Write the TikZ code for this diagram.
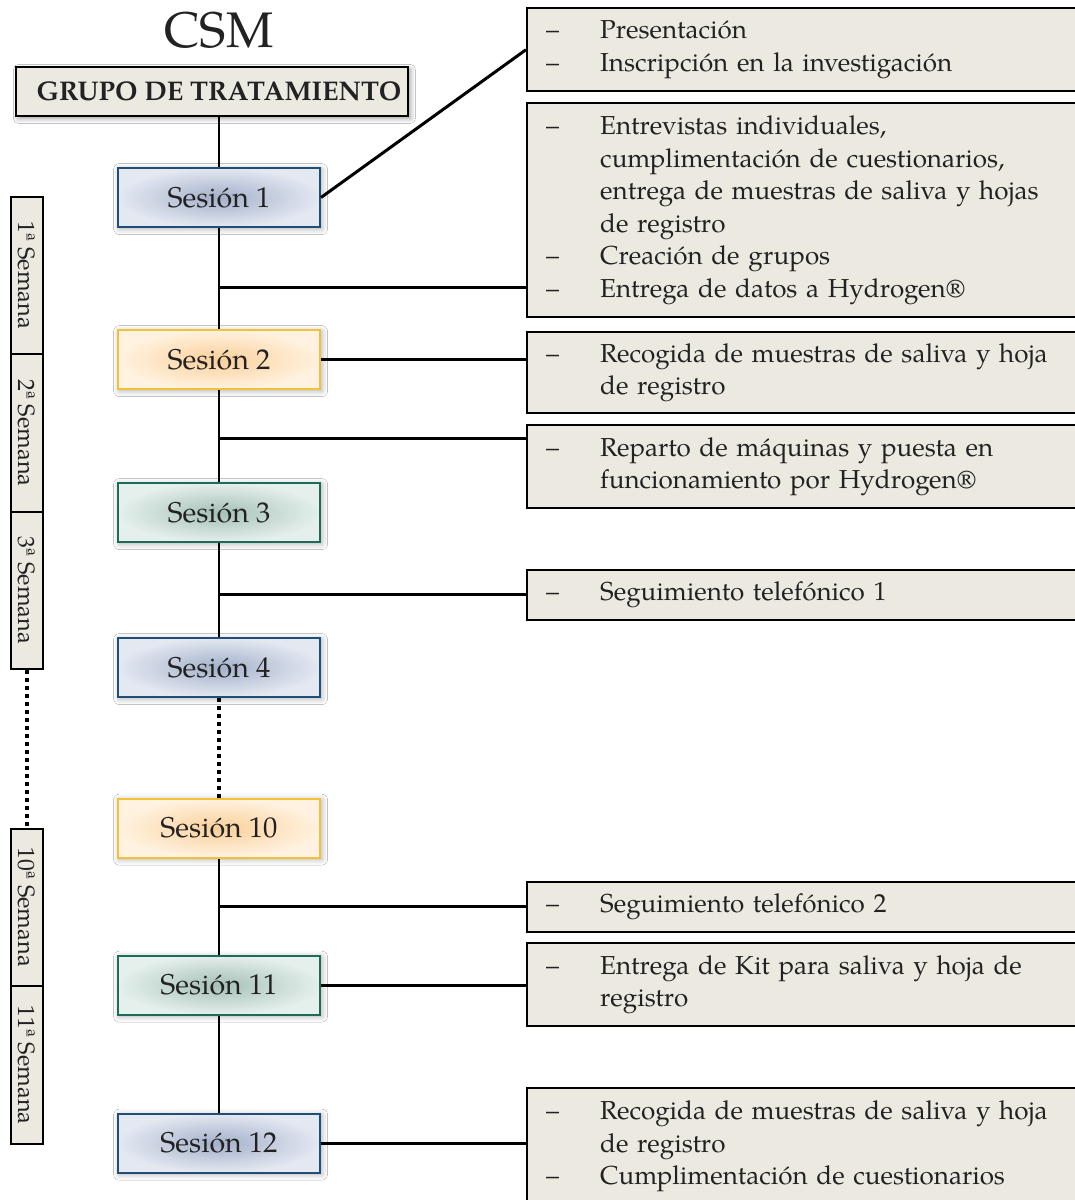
\documentclass[tikz,border=0pt]{standalone}
\usepackage{fontspec}
\setmainfont{texgyrepagella}[Extension=.otf, UprightFont=*-regular, BoldFont=*-bold, ItalicFont=*-italic, BoldItalicFont=*-bolditalic]
\usetikzlibrary{shadows.blur}

\definecolor{paper}{HTML}{ECE9E0}
\definecolor{ink}{HTML}{222222}
\definecolor{bluedge}{HTML}{1F4E79}
\definecolor{bluein}{HTML}{A4B0CA}
\definecolor{blueout}{HTML}{E3E8F1}
\definecolor{goldedge}{HTML}{F0C23A}
\definecolor{goldin}{HTML}{FAD09A}
\definecolor{goldout}{HTML}{FFF2E0}
\definecolor{tealedge}{HTML}{1D6B5B}
\definecolor{tealin}{HTML}{A5C0B8}
\definecolor{tealout}{HTML}{E5EFEC}

% first line of an item, and continuation lines
\newcommand\itm{\makebox[36.5pt][l]{\hspace*{9.5pt}–}}
\newcommand\cnt{\hspace*{36.5pt}}

\tikzset{
  session/.style={draw, line width=1pt, minimum width=101pt, minimum height=29.5pt,
    inner sep=0pt, font=\fontsize{14.3}{14}\selectfont, text=ink,
    blur shadow={shadow xshift=0.8pt, shadow yshift=-0.8pt, shadow blur radius=3pt, shadow opacity=35}},
  blueses/.style={session, draw=bluedge, inner color=bluein, outer color=blueout},
  goldses/.style={session, draw=goldedge, inner color=goldin, outer color=goldout},
  tealses/.style={session, draw=tealedge, inner color=tealin, outer color=tealout},
  note/.style={draw=black, line width=1.2pt, fill=paper, anchor=north west,
    minimum width=290pt, text width=290pt, inner xsep=0pt, inner ysep=0pt,
    minimum height=#1, align=left, font=\fontsize{13}{16.3}\selectfont, text=ink},
  week/.style={draw=black, line width=1pt, fill=paper, rotate=-90,
    minimum width=#1, minimum height=16pt, inner sep=0pt,
    font=\fontsize{11.8}{11.8}\selectfont, text=ink},
  trunk/.style={line width=1.4pt},
  link/.style={line width=1.5pt},
  gap/.style={line width=2.2pt, dash pattern=on 2.2pt off 1.8pt},
}

\begin{document}
\begin{tikzpicture}[x=0.5pt, y=-0.5pt]
\useasboundingbox (0,0) rectangle (1075,1200);
\fill[white] (0,0) rectangle (1075,1200);

% title and group header
\node[anchor=base, font=\fontsize{25}{25}\selectfont, text=ink] (csm) at (219,47) {CSM};
\node[draw=black, line width=1.2pt, fill=paper, minimum width=196pt, minimum height=24.5pt,
  inner sep=0pt, font=\fontsize{13.5}{13.5}\selectfont\bfseries, text=ink,
  blur shadow={shadow xshift=1.2pt, shadow yshift=-1.2pt, shadow blur radius=2.5pt, shadow opacity=40}]
  (grupo) at (212,91.5) {\hspace*{7pt}GRUPO DE TRATAMIENTO};

% sessions
\node[blueses] (s1)  at (219,197.5)  {Sesión 1};
\node[goldses] (s2)  at (219,359.5)  {Sesión 2};
\node[tealses] (s3)  at (219,512.5)  {Sesión 3};
\node[blueses] (s4)  at (219,667.5)  {Sesión 4};
\node[goldses] (s10) at (219,828)    {Sesión 10};
\node[tealses] (s11) at (219,985)    {Sesión 11};
\node[blueses] (s12) at (219,1143)   {Sesión 12};

% activity boxes
\node[note=41.5pt] (b1) at (526,7) {\itm Presentación\\ \itm Inscripción en la investigación};
\node[note=107pt] (b2) at (526,102) {\itm Entrevistas individuales,\\ \cnt cumplimentación de cuestionarios,\\ \cnt entrega de muestras de saliva y hojas\\ \cnt de registro\\ \itm Creación de grupos\\ \itm Entrega de datos a Hydrogen®};
\node[note=40.5pt] (b3) at (526,331) {\itm Recogida de muestras de saliva y hoja\\ \cnt de registro};
\node[note=41.5pt] (b4) at (526,424) {\itm Reparto de máquinas y puesta en\\ \cnt funcionamiento por Hydrogen®};
\node[note=25pt] (b5) at (526,569) {\itm Seguimiento telefónico 1};
\node[note=25pt] (b6) at (526,881) {\itm Seguimiento telefónico 2};
\node[note=41.5pt] (b7) at (526,942) {\itm Entrega de Kit para saliva y hoja de\\ \cnt registro};
\node[note=58pt] (b8) at (526,1087) {\itm Recogida de muestras de saliva y hoja\\ \cnt de registro\\ \itm Cumplimentación de cuestionarios};

% weeks
\node[week=78.5pt] (w1)  at (27,275.5) {1ª Semana};
\node[week=79pt]   (w2)  at (27,433)   {2ª Semana};
\node[week=78.5pt] (w3)  at (27,590.5) {3ª Semana};
\node[week=78.5pt] (w10) at (27,907.5) {10ª Semana};
\node[week=79pt]   (w11) at (27,1065)  {11ª Semana};
\draw[gap] (w3.east) -- (w10.west);

% junctions on the trunk
\coordinate (j1) at (219,287);
\coordinate (j2) at (219,438);
\coordinate (j3) at (219,594);
\coordinate (j4) at (219,906);

% trunk
\draw[line width=1pt] (s1.north |- grupo.south) -- (s1.north);
\draw[trunk] (s1.south) -- (s2.north);
\draw[line width=1.1pt] (s2.south) -- (s3.north);
\draw[trunk] (s3.south) -- (s4.north);
\draw[gap] (s4.south) -- (s10.north);
\draw[trunk] (s10.south) -- (s11.north);
\draw[line width=1.2pt] (s11.south) -- (s12.north);

% links to the activity boxes
\draw[link] (s1.east) -- (b1.west);
\draw[link] (j1) -- (j1 -| b2.west);
\draw[link] (s2.east) -- (s2.east -| b3.west);
\draw[link] (j2) -- (j2 -| b4.west);
\draw[link] (j3) -- (j3 -| b5.west);
\draw[link] (j4) -- (j4 -| b6.west);
\draw[link] (s11.east) -- (s11.east -| b7.west);
\draw[link] (s12.east) -- (s12.east -| b8.west);
\end{tikzpicture}
\end{document}
